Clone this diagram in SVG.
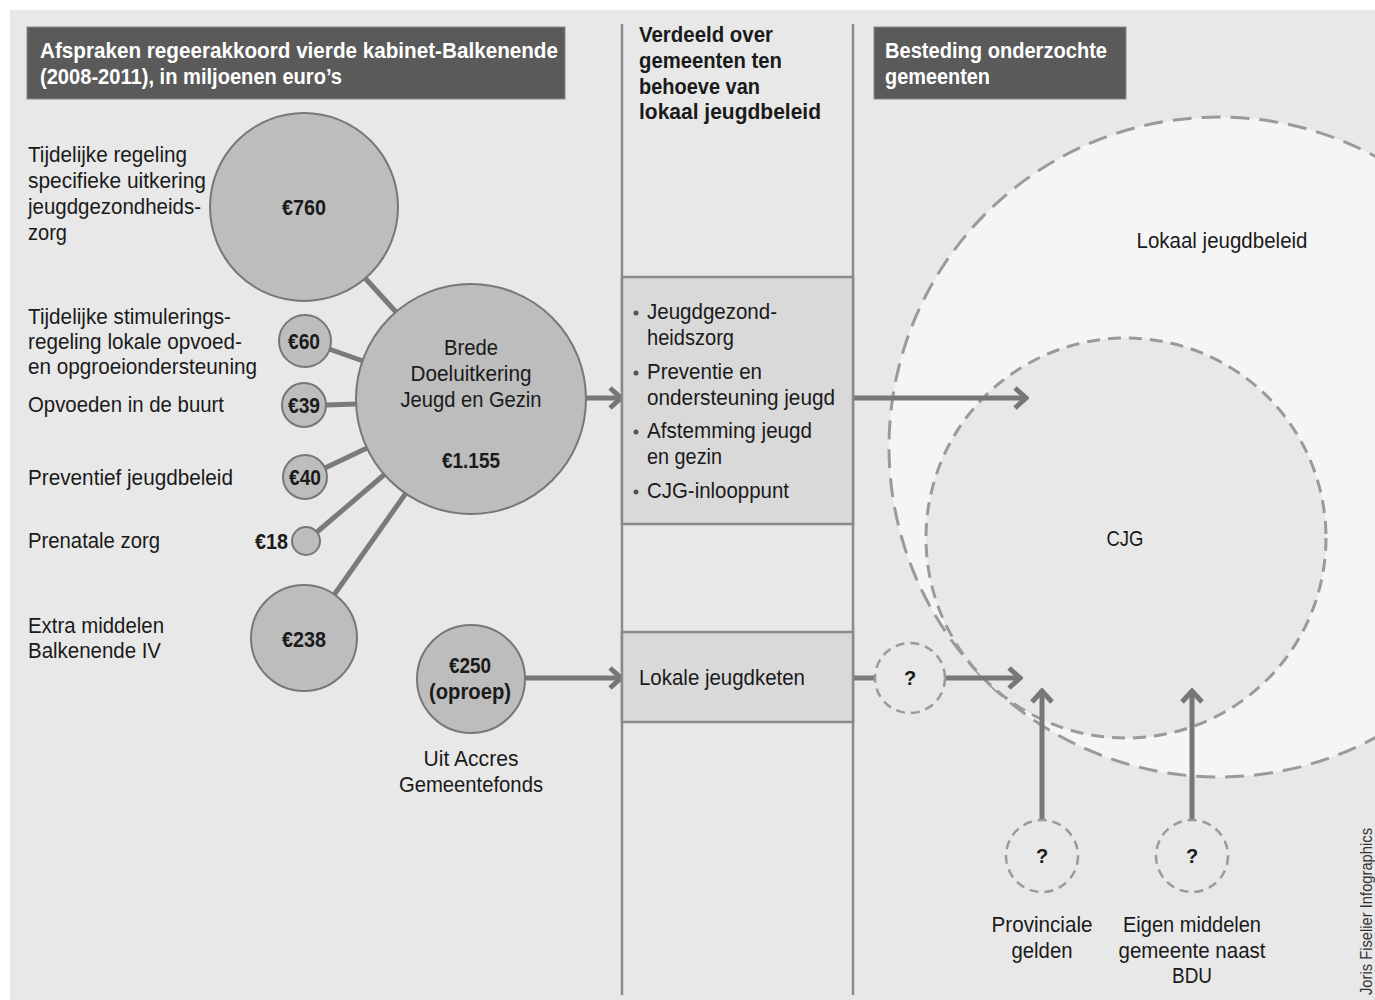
<svg xmlns="http://www.w3.org/2000/svg" width="1375" height="1000" viewBox="0 0 1375 1000">
<style>
text{font-family:'Liberation Sans',Arial,sans-serif;fill:#1a1a1a}
.lbl{font-size:22px}
.b{font-weight:bold}
.hd{font-size:22px;font-weight:bold;fill:#fff}
.c{text-anchor:middle}
.bub{fill:#bdbdbd;stroke:#777;stroke-width:2}
.box{fill:#d9d9d9;stroke:#8a8a8a;stroke-width:2.5}
.q{fill:none;stroke:#9a9a9a;stroke-width:2.5;stroke-dasharray:9 6}
.link{stroke:#7a7a7a;stroke-width:5;fill:none}
.arr{stroke:#777;stroke-width:5;fill:none;marker-end:url(#ah)}
</style>
<defs>
<marker id="ah" viewBox="0 0 16 24" refX="14" refY="12" markerWidth="16" markerHeight="24" markerUnits="userSpaceOnUse" orient="auto">
<path d="M2,2 L13,12 L2,22" fill="none" stroke="#777" stroke-width="5"/>
</marker>
</defs>
<rect x="0" y="0" width="1375" height="1000" fill="#fff"/>
<rect x="10" y="10" width="1365" height="990" fill="#e8e8e8"/>

<g id="lokaal">
<circle cx="1219" cy="447" r="330" fill="#f5f5f5" stroke="#9a9a9a" stroke-width="3" stroke-dasharray="19 10"/>
<text class="lbl c" x="1222" y="248" textLength="171" lengthAdjust="spacingAndGlyphs">Lokaal jeugdbeleid</text>
</g>
<g id="cjg">
<circle cx="1126" cy="538" r="200" fill="#e8e8e8" stroke="#9a9a9a" stroke-width="3" stroke-dasharray="13 8"/>
<text class="lbl c" x="1125" y="546" textLength="37" lengthAdjust="spacingAndGlyphs">CJG</text>
</g>

<g id="columns" stroke="#8a8a8a" stroke-width="2.5">
<line x1="622" y1="24" x2="622" y2="995"/>
<line x1="853" y1="24" x2="853" y2="995"/>
</g>

<g id="header-left">
<rect x="27" y="27" width="538" height="72" fill="#5a5a5a" stroke="#888" stroke-width="1"/>
<text class="hd" x="40" y="58" textLength="518" lengthAdjust="spacingAndGlyphs">Afspraken regeerakkoord vierde kabinet-Balkenende</text>
<text class="hd" x="40" y="84" textLength="302" lengthAdjust="spacingAndGlyphs">(2008-2011), in miljoenen euro’s</text>
</g>
<g id="header-mid">
<text class="lbl b" x="639" y="42" textLength="134" lengthAdjust="spacingAndGlyphs">Verdeeld over</text>
<text class="lbl b" x="639" y="68" textLength="143" lengthAdjust="spacingAndGlyphs">gemeenten ten</text>
<text class="lbl b" x="639" y="94" textLength="121" lengthAdjust="spacingAndGlyphs">behoeve van</text>
<text class="lbl b" x="639" y="119" textLength="182" lengthAdjust="spacingAndGlyphs">lokaal jeugdbeleid</text>
</g>
<g id="header-right">
<rect x="874" y="27" width="252" height="72" fill="#5a5a5a" stroke="#888" stroke-width="1"/>
<text class="hd" x="885" y="58" textLength="222" lengthAdjust="spacingAndGlyphs">Besteding onderzochte</text>
<text class="hd" x="885" y="84" textLength="105" lengthAdjust="spacingAndGlyphs">gemeenten</text>
</g>

<g id="connectors">
<line class="link" x1="365" y1="278" x2="396" y2="312"/>
<line class="link" x1="329" y1="349" x2="363" y2="361"/>
<line class="link" x1="326" y1="405" x2="357" y2="404"/>
<line class="link" x1="325" y1="468" x2="367" y2="448"/>
<line class="link" x1="317" y1="532" x2="385" y2="474"/>
<line class="link" x1="334" y1="595" x2="406" y2="493"/>
<line class="arr" x1="586" y1="398" x2="622" y2="398"/>
<line class="arr" x1="853" y1="398" x2="1027" y2="398"/>
<line class="arr" x1="525" y1="678" x2="622" y2="678"/>
<line class="link" x1="853" y1="678" x2="875" y2="678"/>
<line class="arr" x1="945" y1="678" x2="1021" y2="678"/>
<line class="arr" x1="1042" y1="820" x2="1042" y2="690"/>
<line class="arr" x1="1192" y1="820" x2="1192" y2="690"/>
</g>

<g id="n760">
<circle class="bub" cx="304" cy="207" r="94"/>
<text class="lbl b c" x="304" y="215" textLength="44" lengthAdjust="spacingAndGlyphs">€760</text>
<text class="lbl" x="28" y="162" textLength="159" lengthAdjust="spacingAndGlyphs">Tijdelijke regeling</text>
<text class="lbl" x="28" y="188" textLength="178" lengthAdjust="spacingAndGlyphs">specifieke uitkering</text>
<text class="lbl" x="28" y="214" textLength="173" lengthAdjust="spacingAndGlyphs">jeugdgezondheids-</text>
<text class="lbl" x="28" y="240" textLength="39" lengthAdjust="spacingAndGlyphs">zorg</text>
</g>
<g id="n60">
<circle class="bub" cx="305" cy="341" r="26"/>
<text class="lbl b c" x="304" y="349" textLength="32" lengthAdjust="spacingAndGlyphs">€60</text>
<text class="lbl" x="28" y="324" textLength="203" lengthAdjust="spacingAndGlyphs">Tijdelijke stimulerings-</text>
<text class="lbl" x="28" y="349" textLength="214" lengthAdjust="spacingAndGlyphs">regeling lokale opvoed-</text>
<text class="lbl" x="28" y="374" textLength="229" lengthAdjust="spacingAndGlyphs">en opgroeiondersteuning</text>
</g>
<g id="n39">
<circle class="bub" cx="304" cy="405" r="22"/>
<text class="lbl b c" x="304" y="413" textLength="32" lengthAdjust="spacingAndGlyphs">€39</text>
<text class="lbl" x="28" y="412" textLength="196" lengthAdjust="spacingAndGlyphs">Opvoeden in de buurt</text>
</g>
<g id="n40">
<circle class="bub" cx="305" cy="477" r="22"/>
<text class="lbl b c" x="305" y="485" textLength="32" lengthAdjust="spacingAndGlyphs">€40</text>
<text class="lbl" x="28" y="485" textLength="205" lengthAdjust="spacingAndGlyphs">Preventief jeugdbeleid</text>
</g>
<g id="n18">
<circle class="bub" cx="306" cy="541" r="14"/>
<text class="lbl b" x="255" y="549" textLength="33" lengthAdjust="spacingAndGlyphs">€18</text>
<text class="lbl" x="28" y="548" textLength="132" lengthAdjust="spacingAndGlyphs">Prenatale zorg</text>
</g>
<g id="n238">
<circle class="bub" cx="304" cy="638" r="53"/>
<text class="lbl b c" x="304" y="647" textLength="44" lengthAdjust="spacingAndGlyphs">€238</text>
<text class="lbl" x="28" y="633" textLength="136" lengthAdjust="spacingAndGlyphs">Extra middelen</text>
<text class="lbl" x="28" y="658" textLength="133" lengthAdjust="spacingAndGlyphs">Balkenende IV</text>
</g>
<g id="brede">
<circle class="bub" cx="471" cy="399" r="115"/>
<text class="lbl c" x="471" y="355" textLength="54" lengthAdjust="spacingAndGlyphs">Brede</text>
<text class="lbl c" x="471" y="381" textLength="121" lengthAdjust="spacingAndGlyphs">Doeluitkering</text>
<text class="lbl c" x="471" y="407" textLength="141" lengthAdjust="spacingAndGlyphs">Jeugd en Gezin</text>
<text class="lbl b c" x="471" y="468" textLength="58" lengthAdjust="spacingAndGlyphs">€1.155</text>
</g>
<g id="n250">
<circle class="bub" cx="471" cy="679" r="54"/>
<text class="lbl b c" x="470" y="673" textLength="42" lengthAdjust="spacingAndGlyphs">€250</text>
<text class="lbl b c" x="470" y="699" textLength="82" lengthAdjust="spacingAndGlyphs">(oproep)</text>
<text class="lbl c" x="471" y="766" textLength="95" lengthAdjust="spacingAndGlyphs">Uit Accres</text>
<text class="lbl c" x="471" y="792" textLength="144" lengthAdjust="spacingAndGlyphs">Gemeentefonds</text>
</g>

<g id="box-bdu">
<rect class="box" x="622" y="277" width="231" height="247"/>
<g fill="#555"><circle cx="636" cy="313" r="2.5"/><circle cx="636" cy="373" r="2.5"/><circle cx="636" cy="432" r="2.5"/><circle cx="636" cy="492" r="2.5"/></g>
<text class="lbl" x="647" y="319" textLength="130" lengthAdjust="spacingAndGlyphs">Jeugdgezond-</text>
<text class="lbl" x="647" y="345" textLength="87" lengthAdjust="spacingAndGlyphs">heidszorg</text>
<text class="lbl" x="647" y="379" textLength="115" lengthAdjust="spacingAndGlyphs">Preventie en</text>
<text class="lbl" x="647" y="405" textLength="188" lengthAdjust="spacingAndGlyphs">ondersteuning jeugd</text>
<text class="lbl" x="647" y="438" textLength="165" lengthAdjust="spacingAndGlyphs">Afstemming jeugd</text>
<text class="lbl" x="647" y="464" textLength="75" lengthAdjust="spacingAndGlyphs">en gezin</text>
<text class="lbl" x="647" y="498" textLength="142" lengthAdjust="spacingAndGlyphs">CJG-inlooppunt</text>
</g>
<g id="box-keten">
<rect class="box" x="622" y="632" width="231" height="90"/>
<text class="lbl" x="639" y="685" textLength="166" lengthAdjust="spacingAndGlyphs">Lokale jeugdketen</text>
</g>

<g id="q1">
<circle class="q" cx="910" cy="678" r="35"/>
<text class="lbl b c" x="910" y="685" style="font-size:20px">?</text>
</g>
<g id="q2">
<circle class="q" cx="1042" cy="856" r="36"/>
<text class="lbl b c" x="1042" y="863" style="font-size:20px">?</text>
<text class="lbl c" x="1042" y="932" textLength="101" lengthAdjust="spacingAndGlyphs">Provinciale</text>
<text class="lbl c" x="1042" y="958" textLength="61" lengthAdjust="spacingAndGlyphs">gelden</text>
</g>
<g id="q3">
<circle class="q" cx="1192" cy="856" r="36"/>
<text class="lbl b c" x="1192" y="863" style="font-size:20px">?</text>
<text class="lbl c" x="1192" y="932" textLength="138" lengthAdjust="spacingAndGlyphs">Eigen middelen</text>
<text class="lbl c" x="1192" y="958" textLength="147" lengthAdjust="spacingAndGlyphs">gemeente naast</text>
<text class="lbl c" x="1192" y="983" textLength="40" lengthAdjust="spacingAndGlyphs">BDU</text>
</g>

<text x="1372" y="995" transform="rotate(-90 1372 995)" textLength="167" lengthAdjust="spacingAndGlyphs" style="font-family:'Liberation Sans',Arial,sans-serif;font-size:16px;fill:#333">Joris Fiselier Infographics</text>
</svg>
